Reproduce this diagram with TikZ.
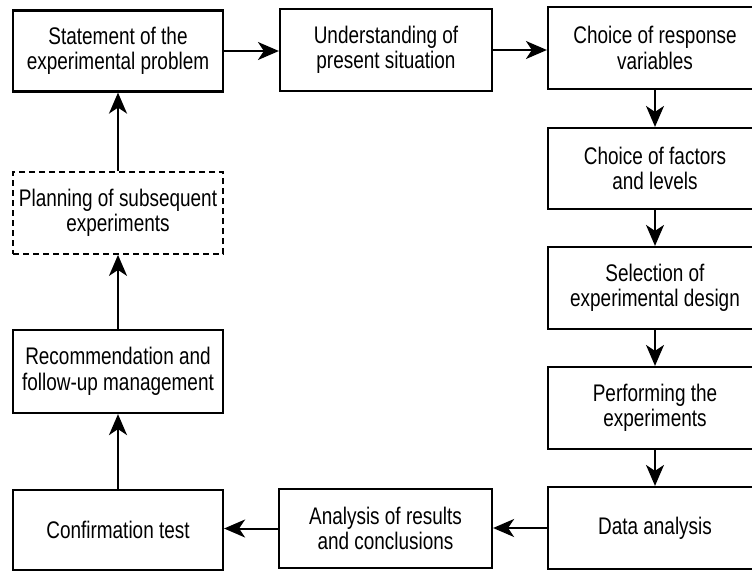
\documentclass[tikz,border=0pt]{standalone}
\usepackage{fontspec}
\setmainfont{Liberation Sans}[FakeStretch=0.79]
\usetikzlibrary{arrows.meta}
\begin{document}
\begin{tikzpicture}[x=1pt,y=-1pt,
  box/.style={draw,line width=2.2pt,rectangle,align=center,inner sep=0pt,
    font=\fontsize{24}{25.5}\selectfont,minimum width=210pt,minimum height=81pt},
  dbox/.style={box,dash pattern=on 6pt off 4pt,line width=1.8pt},
  arr/.style={line width=2pt,-{Stealth[length=21pt,width=18pt,inset=6pt]}}]
\useasboundingbox (0,0) rectangle (752,571);
\fill[white] (0,0) rectangle (752,571);
\node[box,minimum width=210pt,minimum height=81pt] (b1) at (118,51) {Statement of the\\experimental problem};
\node[box,minimum width=212pt,minimum height=82pt] (b2) at (386,50) {Understanding of\\present situation};
\node[box,minimum width=214pt,minimum height=82pt] (b3) at (655,48) {Choice of response\\variables};
\node[box,minimum width=214pt,minimum height=81pt] (b4) at (655,168.5) {Choice of factors\\and levels};
\node[box,minimum width=214pt,minimum height=82pt] (b5) at (655,288) {Selection of\\experimental design};
\node[box,minimum width=214pt,minimum height=82pt] (b6) at (655,408) {Performing the\\experiments};
\node[box,minimum width=214pt,minimum height=82pt] (b7) at (655,528) {Data analysis};
\node[box,minimum width=213pt,minimum height=79pt] (b8) at (385.5,528.5) {Analysis of results\\and conclusions};
\node[box,minimum width=210pt,minimum height=80pt] (b9) at (118,530) {Confirmation test};
\node[box,minimum width=210pt,minimum height=83pt] (b10) at (118,371.5) {Recommendation and\\follow-up management};
\node[dbox,minimum width=210pt,minimum height=82pt] (b11) at (118,213) {Planning of subsequent\\experiments};
\draw[arr] (b1.east) -- (b1.east -| b2.west);
\draw[arr] (b2.east) -- (b2.east -| b3.west);
\draw[arr] (b3) -- (b4);
\draw[arr] (b4) -- (b5);
\draw[arr] (b5) -- (b6);
\draw[arr] (b6) -- (b7);
\draw[arr] (b7.west) -- (b7.west -| b8.east);
\draw[arr] (b8.west) -- (b8.west -| b9.east);
\draw[arr] (b9) -- (b10);
\draw[arr] (b10) -- (b11);
\draw[arr] (b11) -- (b1);
\end{tikzpicture}
\end{document}
